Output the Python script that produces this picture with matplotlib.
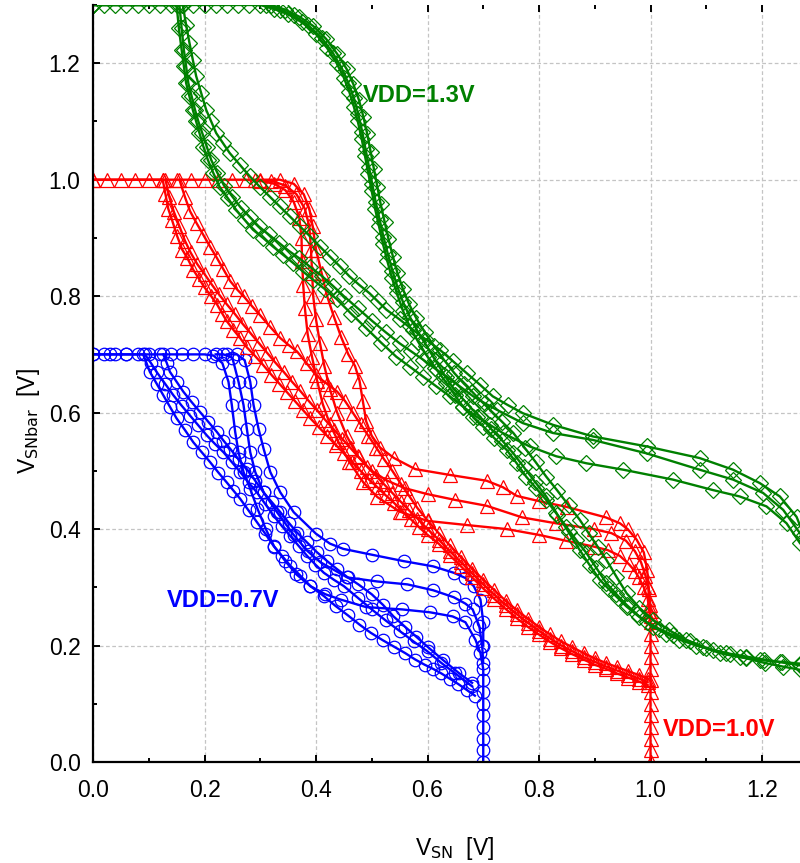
import matplotlib
matplotlib.use("Agg")
import matplotlib.pyplot as plt
from matplotlib.ticker import MultipleLocator

plt.rcParams['font.family'] = ['Liberation Sans', 'DejaVu Sans']

# ---- VDD = 0.7 V (blue, circles) ----
blue_a1 = [(0.00, 0.70), (0.02, 0.70), (0.04, 0.70), (0.06, 0.70), (0.08, 0.70), (0.10, 0.70),
           (0.12, 0.70), (0.14, 0.70), (0.16, 0.70), (0.18, 0.70), (0.20, 0.70), (0.216, 0.698),
           (0.232, 0.685), (0.243, 0.653), (0.249, 0.613), (0.255, 0.567), (0.261, 0.532),
           (0.270, 0.498), (0.282, 0.469), (0.295, 0.435), (0.31, 0.40), (0.325, 0.37),
           (0.345, 0.345), (0.365, 0.322), (0.39, 0.302), (0.417, 0.288), (0.444, 0.279),
           (0.49, 0.266), (0.555, 0.262), (0.605, 0.257), (0.645, 0.25), (0.668, 0.24),
           (0.686, 0.21), (0.695, 0.187), (0.70, 0.16), (0.70, 0.14), (0.70, 0.12), (0.70, 0.10),
           (0.70, 0.08), (0.70, 0.06), (0.70, 0.04), (0.70, 0.02), (0.70, 0.00)]
blue_a2 = [(0.22, 0.70), (0.234, 0.70), (0.25, 0.694), (0.261, 0.653), (0.270, 0.613),
           (0.276, 0.572), (0.282, 0.532), (0.291, 0.498), (0.306, 0.463), (0.33, 0.429),
           (0.36, 0.39), (0.385, 0.362), (0.408, 0.343), (0.456, 0.317), (0.51, 0.31),
           (0.564, 0.305), (0.61, 0.295), (0.647, 0.283), (0.668, 0.272), (0.681, 0.262),
           (0.693, 0.233), (0.698, 0.20), (0.70, 0.17)]
blue_a3 = [(0.24, 0.70), (0.258, 0.70), (0.272, 0.69), (0.282, 0.653), (0.288, 0.613),
           (0.297, 0.572), (0.306, 0.538), (0.318, 0.498), (0.336, 0.463), (0.36, 0.429),
           (0.40, 0.392), (0.425, 0.375), (0.449, 0.366), (0.50, 0.356), (0.557, 0.345),
           (0.61, 0.336), (0.647, 0.325), (0.668, 0.316), (0.683, 0.302), (0.695, 0.279),
           (0.70, 0.24), (0.70, 0.20)]
blue_b1 = [(0.00, 0.70), (0.03, 0.70), (0.06, 0.70), (0.09, 0.70), (0.102, 0.670), (0.114, 0.65),
           (0.126, 0.630), (0.138, 0.61), (0.150, 0.590), (0.165, 0.57), (0.180, 0.549),
           (0.195, 0.532), (0.210, 0.515), (0.225, 0.497), (0.240, 0.480), (0.252, 0.466),
           (0.264, 0.452), (0.279, 0.432), (0.294, 0.412), (0.309, 0.392), (0.324, 0.371),
           (0.339, 0.354), (0.354, 0.337), (0.372, 0.32), (0.390, 0.302), (0.414, 0.285),
           (0.435, 0.268), (0.457, 0.252), (0.478, 0.236), (0.498, 0.222), (0.52, 0.209),
           (0.54, 0.198), (0.56, 0.187), (0.578, 0.176), (0.595, 0.167), (0.61, 0.16),
           (0.625, 0.152), (0.64, 0.143), (0.655, 0.134), (0.67, 0.124), (0.685, 0.114)]
blue_b2 = [(0.093, 0.70), (0.104, 0.685), (0.114, 0.670), (0.129, 0.65), (0.144, 0.630),
           (0.159, 0.612), (0.174, 0.595), (0.189, 0.578), (0.204, 0.561), (0.219, 0.546),
           (0.234, 0.532), (0.249, 0.515), (0.264, 0.498), (0.279, 0.48), (0.294, 0.463),
           (0.309, 0.443), (0.324, 0.423), (0.339, 0.405), (0.354, 0.388), (0.369, 0.371),
           (0.384, 0.354), (0.399, 0.339), (0.414, 0.325), (0.432, 0.313), (0.45, 0.302),
           (0.475, 0.282), (0.50, 0.262), (0.525, 0.243), (0.55, 0.225), (0.575, 0.207),
           (0.60, 0.19), (0.625, 0.17), (0.65, 0.152), (0.68, 0.13)]
blue_b3 = [(0.126, 0.70), (0.132, 0.686), (0.138, 0.670), (0.150, 0.653), (0.162, 0.636),
           (0.177, 0.618), (0.192, 0.601), (0.207, 0.584), (0.222, 0.567), (0.234, 0.552),
           (0.246, 0.538), (0.261, 0.52), (0.276, 0.503), (0.291, 0.483), (0.306, 0.463),
           (0.321, 0.446), (0.336, 0.429), (0.351, 0.411), (0.366, 0.394), (0.384, 0.377),
           (0.402, 0.36), (0.42, 0.345), (0.438, 0.331), (0.457, 0.317), (0.476, 0.305),
           (0.50, 0.288), (0.52, 0.27), (0.539, 0.25), (0.56, 0.232), (0.58, 0.215),
           (0.60, 0.198), (0.628, 0.175), (0.656, 0.153), (0.68, 0.136)]

# ---- VDD = 1.0 V (red, triangles) ----
red_a1 = [(0.00, 1.0), (0.025, 1.0), (0.05, 1.0), (0.075, 1.0), (0.10, 1.0), (0.125, 1.0),
          (0.15, 1.0), (0.175, 1.0), (0.20, 1.0), (0.225, 1.0), (0.25, 1.0), (0.275, 1.0),
          (0.30, 0.998), (0.325, 0.993), (0.345, 0.982), (0.36, 0.962), (0.37, 0.935),
          (0.374, 0.90), (0.375, 0.86), (0.377, 0.82), (0.38, 0.78), (0.385, 0.735),
          (0.393, 0.695), (0.402, 0.655), (0.412, 0.615), (0.425, 0.58), (0.44, 0.55),
          (0.46, 0.515), (0.485, 0.48), (0.51, 0.455), (0.55, 0.43), (0.60, 0.414),
          (0.67, 0.407), (0.742, 0.40), (0.80, 0.39), (0.848, 0.38), (0.898, 0.37),
          (0.923, 0.364), (0.945, 0.354), (0.961, 0.34), (0.972, 0.328), (0.979, 0.317),
          (0.988, 0.30), (0.995, 0.28), (0.998, 0.26), (1.0, 0.24), (1.0, 0.22), (1.0, 0.20),
          (1.0, 0.18), (1.0, 0.16), (1.0, 0.14), (1.0, 0.12), (1.0, 0.10), (1.0, 0.08),
          (1.0, 0.06), (1.0, 0.04), (1.0, 0.02), (1.0, 0.00)]
red_a2 = [(0.29, 1.0), (0.32, 0.998), (0.345, 0.99), (0.365, 0.975), (0.38, 0.95), (0.388, 0.92),
          (0.391, 0.88), (0.393, 0.84), (0.395, 0.80), (0.40, 0.76), (0.407, 0.72), (0.415, 0.68),
          (0.425, 0.64), (0.438, 0.60), (0.455, 0.56), (0.475, 0.525), (0.50, 0.50),
          (0.528, 0.483), (0.56, 0.47), (0.60, 0.46), (0.65, 0.45), (0.706, 0.44), (0.77, 0.42),
          (0.83, 0.41), (0.898, 0.40), (0.93, 0.393), (0.956, 0.38), (0.972, 0.362),
          (0.983, 0.343), (0.991, 0.32), (0.996, 0.30), (0.999, 0.27), (1.0, 0.25)]
red_a3 = [(0.30, 1.0), (0.335, 1.0), (0.36, 0.993), (0.378, 0.975), (0.388, 0.95), (0.394, 0.92),
          (0.40, 0.88), (0.41, 0.84), (0.42, 0.80), (0.432, 0.765), (0.445, 0.73), (0.458, 0.70),
          (0.47, 0.68), (0.478, 0.655), (0.484, 0.62), (0.49, 0.585), (0.50, 0.56), (0.515, 0.54),
          (0.54, 0.522), (0.578, 0.503), (0.64, 0.493), (0.706, 0.483), (0.735, 0.472),
          (0.76, 0.457), (0.80, 0.448), (0.85, 0.438), (0.92, 0.42), (0.945, 0.41),
          (0.959, 0.40), (0.975, 0.382), (0.988, 0.36), (0.994, 0.33), (0.997, 0.297),
          (1.0, 0.26)]
red_b1 = [(0.00, 1.0), (0.125, 1.0), (0.13, 0.975), (0.135, 0.95), (0.142, 0.93), (0.151, 0.903),
          (0.16, 0.88), (0.169, 0.866), (0.18, 0.845), (0.19, 0.83), (0.20, 0.815), (0.212, 0.80),
          (0.223, 0.785), (0.232, 0.77), (0.24, 0.757), (0.252, 0.742), (0.264, 0.728),
          (0.276, 0.712), (0.29, 0.698), (0.305, 0.682), (0.32, 0.665), (0.334, 0.65),
          (0.348, 0.635), (0.362, 0.62), (0.376, 0.605), (0.39, 0.59), (0.405, 0.575),
          (0.42, 0.56), (0.435, 0.545), (0.45, 0.53), (0.465, 0.515), (0.48, 0.50),
          (0.495, 0.485), (0.51, 0.472), (0.525, 0.458), (0.54, 0.445), (0.555, 0.43),
          (0.57, 0.417), (0.585, 0.403), (0.60, 0.39), (0.62, 0.375), (0.64, 0.355),
          (0.66, 0.336), (0.68, 0.317), (0.70, 0.298), (0.72, 0.28), (0.74, 0.263),
          (0.76, 0.247), (0.78, 0.232), (0.80, 0.219), (0.82, 0.206), (0.84, 0.195),
          (0.86, 0.185), (0.88, 0.176), (0.90, 0.167), (0.92, 0.16), (0.94, 0.152),
          (0.96, 0.145), (0.98, 0.138), (0.995, 0.132)]
red_b2 = [(0.13, 1.0), (0.137, 0.97), (0.145, 0.945), (0.155, 0.92), (0.165, 0.895),
          (0.175, 0.875), (0.187, 0.855), (0.20, 0.838), (0.213, 0.82), (0.226, 0.803),
          (0.24, 0.786), (0.254, 0.77), (0.268, 0.753), (0.282, 0.737), (0.297, 0.72),
          (0.312, 0.703), (0.327, 0.686), (0.342, 0.67), (0.357, 0.653), (0.372, 0.637),
          (0.387, 0.62), (0.402, 0.604), (0.417, 0.587), (0.432, 0.571), (0.447, 0.555),
          (0.462, 0.539), (0.477, 0.523), (0.492, 0.507), (0.507, 0.492), (0.522, 0.477),
          (0.537, 0.462), (0.552, 0.447), (0.567, 0.432), (0.582, 0.418), (0.60, 0.40),
          (0.62, 0.382), (0.64, 0.362), (0.66, 0.343), (0.68, 0.324), (0.70, 0.305),
          (0.72, 0.287), (0.74, 0.27), (0.76, 0.254), (0.78, 0.239), (0.80, 0.225),
          (0.82, 0.212), (0.84, 0.20), (0.86, 0.19), (0.88, 0.18), (0.90, 0.172),
          (0.92, 0.164), (0.94, 0.157), (0.96, 0.15), (0.98, 0.143), (0.995, 0.137)]
red_b3 = [(0.155, 1.0), (0.165, 0.97), (0.174, 0.946), (0.186, 0.925), (0.198, 0.905),
          (0.21, 0.885), (0.222, 0.866), (0.234, 0.846), (0.246, 0.826), (0.258, 0.812),
          (0.27, 0.80), (0.285, 0.783), (0.30, 0.767), (0.318, 0.747), (0.336, 0.728),
          (0.351, 0.716), (0.366, 0.705), (0.383, 0.685), (0.40, 0.664), (0.419, 0.65),
          (0.438, 0.636), (0.452, 0.62), (0.466, 0.60), (0.48, 0.58), (0.494, 0.56),
          (0.508, 0.54), (0.522, 0.52), (0.537, 0.50), (0.552, 0.478), (0.567, 0.457),
          (0.582, 0.436), (0.60, 0.415), (0.62, 0.393), (0.64, 0.372), (0.66, 0.352),
          (0.68, 0.332), (0.70, 0.313), (0.72, 0.295), (0.74, 0.277), (0.76, 0.261),
          (0.78, 0.246), (0.80, 0.232), (0.82, 0.219), (0.84, 0.207), (0.86, 0.197),
          (0.88, 0.187), (0.90, 0.178), (0.92, 0.17), (0.94, 0.163), (0.96, 0.156),
          (0.98, 0.149), (0.995, 0.143)]

# ---- VDD = 1.3 V (green, diamonds) ----
green_a1 = [(0.00, 1.3), (0.02, 1.3), (0.04, 1.3), (0.06, 1.3), (0.08, 1.3), (0.10, 1.3),
            (0.12, 1.3), (0.14, 1.3), (0.16, 1.3), (0.18, 1.3), (0.20, 1.3), (0.22, 1.3),
            (0.24, 1.3), (0.26, 1.3), (0.28, 1.3), (0.30, 1.3), (0.325, 1.293), (0.35, 1.284),
            (0.375, 1.27), (0.40, 1.25), (0.42, 1.226), (0.437, 1.20), (0.45, 1.175),
            (0.46, 1.15), (0.468, 1.125), (0.475, 1.10), (0.482, 1.07), (0.488, 1.04),
            (0.494, 1.01), (0.50, 0.98), (0.506, 0.95), (0.513, 0.92), (0.52, 0.89),
            (0.528, 0.86), (0.536, 0.832), (0.545, 0.805), (0.556, 0.775), (0.568, 0.748),
            (0.583, 0.722), (0.60, 0.696), (0.617, 0.673), (0.634, 0.651), (0.649, 0.63),
            (0.664, 0.61), (0.682, 0.593), (0.70, 0.576), (0.72, 0.556), (0.742, 0.536),
            (0.76, 0.513), (0.777, 0.49), (0.795, 0.47), (0.813, 0.45), (0.831, 0.427),
            (0.849, 0.404), (0.867, 0.381), (0.885, 0.359), (0.903, 0.333), (0.921, 0.307),
            (0.939, 0.288), (0.957, 0.27), (0.975, 0.254), (0.993, 0.24), (1.015, 0.229),
            (1.04, 0.218), (1.07, 0.207), (1.10, 0.196), (1.135, 0.187), (1.172, 0.178),
            (1.205, 0.17), (1.237, 0.164), (1.27, 0.158)]
green_a2 = [(0.31, 1.3), (0.335, 1.292), (0.36, 1.282), (0.385, 1.266), (0.41, 1.244),
            (0.43, 1.218), (0.446, 1.192), (0.458, 1.166), (0.468, 1.14), (0.476, 1.112),
            (0.483, 1.082), (0.489, 1.052), (0.495, 1.022), (0.501, 0.992), (0.507, 0.962),
            (0.514, 0.932), (0.521, 0.902), (0.529, 0.872), (0.537, 0.844), (0.546, 0.816),
            (0.556, 0.79), (0.568, 0.765), (0.582, 0.74), (0.598, 0.715), (0.614, 0.69),
            (0.63, 0.665), (0.646, 0.642), (0.662, 0.625), (0.678, 0.608), (0.694, 0.593),
            (0.714, 0.572), (0.734, 0.552), (0.754, 0.53), (0.773, 0.506), (0.793, 0.481),
            (0.813, 0.456), (0.833, 0.425), (0.853, 0.395), (0.873, 0.364), (0.891, 0.338),
            (0.909, 0.313), (0.925, 0.297), (0.941, 0.282), (0.957, 0.267), (0.98, 0.249),
            (1.004, 0.232), (1.028, 0.22), (1.052, 0.21), (1.082, 0.20), (1.112, 0.192),
            (1.142, 0.186), (1.172, 0.181), (1.204, 0.176), (1.236, 0.171), (1.268, 0.166)]
green_a3 = [(0.32, 1.3), (0.345, 1.292), (0.37, 1.28), (0.395, 1.264), (0.418, 1.242),
            (0.438, 1.216), (0.455, 1.19), (0.467, 1.164), (0.477, 1.137), (0.485, 1.108),
            (0.492, 1.078), (0.498, 1.048), (0.504, 1.018), (0.51, 0.988), (0.516, 0.958),
            (0.523, 0.928), (0.53, 0.898), (0.538, 0.868), (0.546, 0.84), (0.556, 0.812),
            (0.567, 0.786), (0.58, 0.762), (0.595, 0.738), (0.612, 0.714), (0.63, 0.69),
            (0.648, 0.668), (0.665, 0.65), (0.68, 0.636), (0.694, 0.622), (0.714, 0.603),
            (0.734, 0.584), (0.754, 0.565), (0.774, 0.54), (0.794, 0.515), (0.813, 0.49),
            (0.833, 0.466), (0.853, 0.441), (0.873, 0.416), (0.889, 0.393), (0.905, 0.37),
            (0.921, 0.347), (0.939, 0.318), (0.957, 0.29), (0.98, 0.265), (1.004, 0.244),
            (1.034, 0.226), (1.064, 0.21), (1.094, 0.198), (1.124, 0.187), (1.16, 0.18),
            (1.196, 0.175), (1.232, 0.172), (1.268, 0.169)]
green_b1 = [(0.00, 1.3), (0.15, 1.30), (0.154, 1.26), (0.159, 1.223), (0.163, 1.195),
            (0.167, 1.166), (0.173, 1.143), (0.179, 1.12), (0.185, 1.10), (0.191, 1.08),
            (0.198, 1.057), (0.206, 1.034), (0.216, 1.011), (0.227, 0.988), (0.242, 0.968),
            (0.257, 0.948), (0.272, 0.931), (0.287, 0.914), (0.305, 0.90), (0.323, 0.885),
            (0.341, 0.871), (0.359, 0.857), (0.377, 0.842), (0.395, 0.828), (0.416, 0.812),
            (0.437, 0.795), (0.463, 0.77), (0.49, 0.745), (0.517, 0.72), (0.544, 0.696),
            (0.568, 0.679), (0.592, 0.662), (0.616, 0.645), (0.64, 0.628), (0.664, 0.61),
            (0.688, 0.593), (0.712, 0.579), (0.735, 0.565), (0.783, 0.542), (0.831, 0.525),
            (0.885, 0.513), (0.951, 0.502), (1.04, 0.485), (1.112, 0.467), (1.16, 0.456),
            (1.208, 0.439), (1.244, 0.41), (1.268, 0.376)]
green_b2 = [(0.00, 1.3), (0.155, 1.30), (0.159, 1.26), (0.163, 1.223), (0.167, 1.195),
            (0.171, 1.166), (0.177, 1.143), (0.183, 1.12), (0.189, 1.10), (0.196, 1.08),
            (0.204, 1.057), (0.212, 1.034), (0.223, 1.012), (0.235, 0.99), (0.25, 0.971),
            (0.265, 0.952), (0.281, 0.936), (0.297, 0.92), (0.315, 0.906), (0.333, 0.892),
            (0.351, 0.878), (0.37, 0.865), (0.39, 0.85), (0.41, 0.835), (0.43, 0.818),
            (0.45, 0.80), (0.475, 0.779), (0.50, 0.758), (0.525, 0.738), (0.55, 0.719),
            (0.571, 0.705), (0.592, 0.691), (0.613, 0.676), (0.634, 0.662), (0.658, 0.645),
            (0.682, 0.628), (0.703, 0.616), (0.724, 0.605), (0.771, 0.582), (0.825, 0.565),
            (0.897, 0.553), (0.993, 0.530), (1.088, 0.502), (1.148, 0.485), (1.202, 0.462),
            (1.238, 0.433), (1.268, 0.393)]
green_b3 = [(0.00, 1.3), (0.161, 1.30), (0.167, 1.266), (0.173, 1.235), (0.179, 1.206),
            (0.185, 1.178), (0.194, 1.149), (0.203, 1.12), (0.212, 1.10), (0.221, 1.08),
            (0.233, 1.063), (0.245, 1.046), (0.263, 1.026), (0.281, 1.006), (0.299, 0.988),
            (0.317, 0.971), (0.335, 0.954), (0.353, 0.937), (0.371, 0.92), (0.389, 0.903),
            (0.407, 0.885), (0.425, 0.868), (0.443, 0.851), (0.46, 0.834), (0.478, 0.819),
            (0.496, 0.805), (0.511, 0.791), (0.526, 0.777), (0.55, 0.76), (0.574, 0.742),
            (0.598, 0.725), (0.622, 0.708), (0.646, 0.688), (0.670, 0.668), (0.694, 0.648),
            (0.717, 0.628), (0.744, 0.613), (0.771, 0.599), (0.825, 0.579), (0.897, 0.559),
            (0.993, 0.542), (1.088, 0.522), (1.148, 0.502), (1.196, 0.479), (1.232, 0.456),
            (1.262, 0.421), (1.275, 0.39)]

fig = plt.figure(figsize=(8.0, 8.63), dpi=100)
ax = fig.add_axes([93 / 800, 1 - 762 / 863, 707 / 800, 757 / 863])

groups = [
    ([blue_a1, blue_a2, blue_a3, blue_b1, blue_b2, blue_b3], '#0000ff', 'o', 9.0),
    ([red_a1, red_a2, red_a3, red_b1, red_b2, red_b3], '#ff0000', '^', 9.5),
    ([green_a1, green_a2, green_a3, green_b1, green_b2, green_b3], '#008000', 'D', 8.0),
]
for curves, col, mk, ms in groups:
    for pts in curves:
        xs, ys = zip(*pts)
        ax.plot(xs, ys, color=col, lw=1.7, marker=mk, ms=ms, mfc='none',
                mec=col, mew=0.9)

ax.set_xlim(0, 707 / 557.5)
ax.set_ylim(0, 1.3)
ax.xaxis.set_major_locator(MultipleLocator(0.2))
ax.xaxis.set_minor_locator(MultipleLocator(0.1))
ax.yaxis.set_major_locator(MultipleLocator(0.2))
ax.yaxis.set_minor_locator(MultipleLocator(0.1))
ax.xaxis.set_major_formatter(lambda v, p: f'{v:.1f}')
ax.yaxis.set_major_formatter(lambda v, p: f'{v:.1f}')

ax.grid(True, which='major', color='#c4c4c4', linestyle=(0, (3, 2)), lw=0.9)
ax.set_axisbelow(True)

for s in ['top', 'right']:
    ax.spines[s].set_visible(False)
for s in ['left', 'bottom']:
    ax.spines[s].set_linewidth(1.6)
    ax.spines[s].set_color('black')

ax.tick_params(which='both', direction='in', top=True, labelsize=16.5, width=1.4)
ax.tick_params(which='major', length=5)
ax.tick_params(which='minor', length=3)
ax.tick_params(axis='x', pad=12)
ax.tick_params(axis='y', pad=9)

ax.set_xlabel(r'V$_{\mathrm{SN}}$  [V]', fontsize=16.5)
ax.xaxis.set_label_coords(0.512, -0.097)
ax.set_ylabel(r'V$_{\mathrm{SNbar}}$  [V]', fontsize=16.5)
ax.yaxis.set_label_coords(-0.072, 0.45)

ax.text(0.484, 1.144, 'VDD=1.3V', color='#008000', fontsize=17, fontweight='bold',
        ha='left', va='center')
ax.text(1.022, 0.055, 'VDD=1.0V', color='#ff0000', fontsize=17, fontweight='bold',
        ha='left', va='center')
ax.text(0.132, 0.278, 'VDD=0.7V', color='#0000ff', fontsize=17, fontweight='bold',
        ha='left', va='center')

fig.savefig('out.png', dpi=100)
